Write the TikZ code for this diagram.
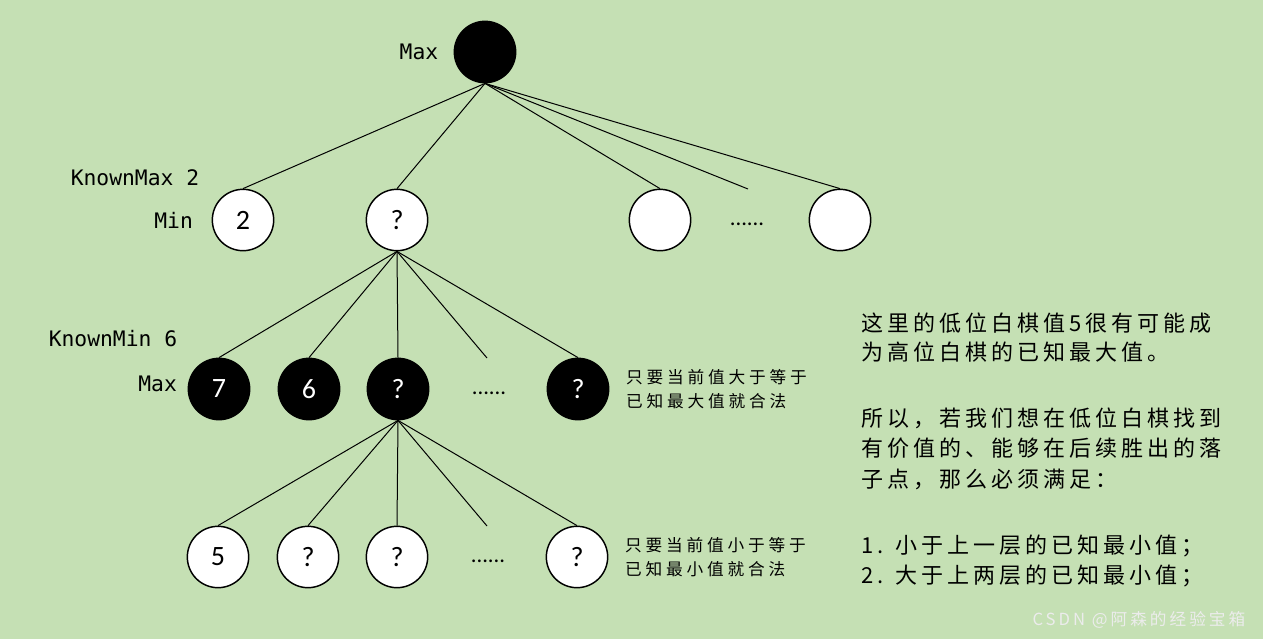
\documentclass[tikz,border=0pt]{standalone}
\usepackage{fontspec}
\setmainfont{Carlito}
\setmonofont{DejaVu Sans Mono}
\newfontfamily\cjk[LetterSpace=18]{Noto Sans CJK SC}
\newfontfamily\cjksmall[LetterSpace=23]{Noto Sans CJK SC}
\usepackage{xcolor}
\definecolor{bggreen}{HTML}{C5E0B4}
\usetikzlibrary{positioning}

\begin{document}
\begin{tikzpicture}[x=0.75pt, y=-0.75pt, every node/.style={font=\fontsize{17}{20}\selectfont},
  wnode/.style={draw, circle, fill=white, line width=1.1pt, minimum size=46pt, inner sep=0pt, font=\fontsize{21}{24}\selectfont},
  bnode/.style={wnode, fill=black, text=white},
  lbl/.style={font=\ttfamily\fontsize{16}{19}\selectfont},
  note/.style={font=\cjksmall\fontsize{12.5}{18}\selectfont, align=left},
  rtext/.style={font=\cjk\fontsize{16.5}{22}\selectfont, anchor=west},
  edge/.style={line width=0.75pt}]
\fill[bggreen] (0,0) rectangle (1263,639);
\useasboundingbox (0,0) rectangle (1263,639);

\node[bnode] (root) at (485,52) {};
\node[lbl, left=8pt of root] (maxtop) {Max};

\node[wnode] (a1) at (243,220) {2};
\node[wnode] (a2) at (397,220) {?};
\node[wnode] (a3) at (660,220) {};
\node (d1) at (747,224) {......};
\node[wnode] (a4) at (840,220) {};
\coordinate (e1) at (748,189);
\node[lbl] (kmax) at (135,178) {KnownMax 2};
\node[lbl, left=10.5pt of a1] (minlbl) {Min};

\node[bnode] (b1) at (219,389) {7};
\node[bnode] (b2) at (309,389) {6};
\node[bnode] (b3) at (398,389) {?};
\node (d2) at (489,393) {......};
\node[bnode] (b5) at (578,389) {?};
\coordinate (e2) at (487,358);
\node[lbl] (kmin) at (113,339) {KnownMin 6};
\node[lbl, left=4.5pt of b1, yshift=3.75pt] (maxlbl) {Max};
\node[note, right=9pt of b5] (note1) {只要当前值大于等于\\已知最大值就合法};

\node[wnode] (c1) at (218,557) {5};
\node[wnode] (c2) at (308,557) {?};
\node[wnode] (c3) at (397,557) {?};
\node (d3) at (488,561) {......};
\node[wnode] (c5) at (577,557) {?};
\coordinate (e3) at (487,526);
\node[note, right=9pt of c5] (note2) {只要当前值小于等于\\已知最小值就合法};

\foreach \n in {a1,a2,a3,a4} \draw[edge] (root.south) -- (\n.north);
\draw[edge] (root.south) -- (e1);
\foreach \n in {b1,b2,b3,b5} \draw[edge] (a2.south) -- (\n.north);
\draw[edge] (a2.south) -- (e2);
\foreach \n in {c1,c2,c3,c5} \draw[edge] (b3.south) -- (\n.north);
\draw[edge] (b3.south) -- (e3);

\foreach \y/\txt [count=\i] in {323/{这里的低位白棋值5很有可能成}, 352/{为高位白棋的已知最大值。},
  418/{所以，若我们想在低位白棋找到}, 448/{有价值的、能够在后续胜出的落}, 479/{子点，那么必须满足：},
  546/{1. 小于上一层的已知最小值；}, 576/{2. 大于上两层的已知最小值；}}
  \node[rtext] (line\i) at (857,\y) {\txt};

\node[font=\cjk\fontsize{12.5}{14}\selectfont, text=white!85!gray, anchor=east] (mark) at (1250,620) {CSDN @阿森的经验宝箱};
\end{tikzpicture}
\end{document}
